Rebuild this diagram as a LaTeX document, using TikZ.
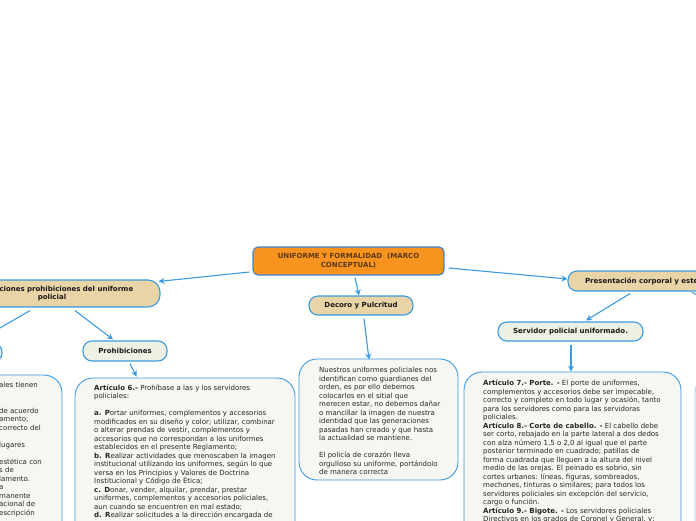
\documentclass[tikz,border=0pt]{standalone}
\usepackage{fontspec}
\setmainfont{DejaVu Sans}
\usetikzlibrary{arrows.meta}
\definecolor{mmblue}{HTML}{3A9BE0}
\definecolor{mmedge}{HTML}{3D84D6}
\definecolor{mmorange}{HTML}{F7931E}
\definecolor{mmtan}{HTML}{E9D4A7}
\definecolor{mmpale}{HTML}{EEF0E4}
\definecolor{mmbox}{HTML}{F6F6F2}
\definecolor{mmbrown}{HTML}{5C3A17}
\definecolor{mmtext}{HTML}{262626}
\begin{document}
\begin{tikzpicture}[x=1pt,y=-1pt,
    topic/.style={draw=mmblue,line width=1.1pt,rounded corners=9pt,fill=mmtan,inner sep=0pt,
      font=\fontsize{7}{8.5}\selectfont\bfseries,text=black!90,align=center},
    subtopic/.style={topic,fill=mmpale},
    textbox/.style={draw=mmblue,line width=0.9pt,rounded corners=18pt,fill=mmbox,inner sep=0pt},
    boxtext/.style={anchor=north west,inner sep=0pt,align=left,text=mmtext,
      font=\fontsize{7}{8.5}\selectfont},
    link/.style={draw=mmblue,line width=1.1pt,-{Stealth[length=6pt,width=6pt]}}]
    \useasboundingbox (0,0) rectangle (696,520);
    \clip (0,0) rectangle (696,520);
    % central topic
    \node[topic,fill=mmorange,draw=mmedge,text=mmbrown,minimum width=191pt,minimum height=28pt,rounded corners=5pt]
        (central) at (348.5,261) {UNIFORME Y FORMALIDAD\ \ (MARCO\\CONCEPTUAL)};
    % main topics
    \node[topic,minimum width=216pt,minimum height=27pt,rounded corners=12pt] (dispo) at (52,293.5)
        {Disposiciones prohibiciones del uniforme\\policial};
    \node[topic,minimum width=104pt,minimum height=19pt] (decoro) at (361,305.5) {Decoro y Pulcritud};
    \node[topic,minimum width=162pt,minimum height=20pt] (pres) at (649,281) {Presentación corporal y estética};
    % subtopics
    \node[subtopic,minimum width=64pt,minimum height=19pt] (leftsub) at (-30,352.5) {};
    \node[subtopic,minimum width=84pt,minimum height=20pt] (prohib) at (125,351) {Prohibiciones};
    \node[subtopic,minimum width=145pt,minimum height=19pt] (servidor) at (570.5,331.5) {Servidor policial uniformado.};
    \node[subtopic,minimum width=60pt,minimum height=20pt] (rightsub) at (745,312) {};
    % text boxes
    \node[textbox,minimum width=212pt,minimum height=185pt] (lefttext) at (-44,467.5) {};
    \node[textbox,minimum width=220pt,minimum height=182pt] (prohibtext) at (185,469) {};
    \node[textbox,minimum width=159pt,minimum height=121pt] (decorotext) at (378.5,419.5) {};
    \node[textbox,minimum width=217pt,minimum height=188pt] (servtext) at (572.5,466) {};
    \node[textbox,draw=mmblue!45,minimum width=200pt,minimum height=185pt] (righttext) at (795,467.5) {};
    % texts
    \node[boxtext] (lefttxt) at (-1,382) {ales tienen\\[8.5pt]\\de acuerdo\\amento;\\correcto del\\[8.5pt]
        lugares\\[8.5pt]estética con\\s de\\lamento.\\a\\manente\\acional de\\escripción};
    \node[boxtext] (prohibtxt) at (94,384.5) {\textbf{Artículo 6.-} Prohíbase a las y los servidores\\policiales:\\[8.5pt]
        \textbf{a. P}ortar uniformes, complementos y accesorios\\
        modificados en su diseño y color; utilizar, combinar\\
        o alterar prendas de vestir, complementos y\\
        accesorios que no correspondan a los uniformes\\
        establecidos en el presente Reglamento;\\
        \textbf{b. R}ealizar actividades que menoscaben la imagen\\
        institucional utilizando los uniformes, según lo que\\
        versa en los Principios y Valores de Doctrina\\
        Institucional y Código de Ética;\\
        \textbf{c. D}onar, vender, alquilar, prendar, prestar\\
        uniformes, complementos y accesorios policiales,\\
        aun cuando se encuentren en mal estado;\\
        \textbf{d. R}ealizar solicitudes a la dirección encargada de};
    \node[boxtext] (decorotxt) at (319,367) {Nuestros uniformes policiales nos\\
        identifican como guardianes del\\orden, es por ello debemos\\colocarlos en el sitial que\\
        merecen estar, no debemos dañar\\o mancillar la imagen de nuestra\\identidad que las generaciones\\
        pasadas han creado y que hasta\\la actualidad se mantiene.\\[8.5pt]
        El policía de corazón lleva\\orgulloso su uniforme, portándolo\\de manera correcta};
    \node[boxtext] (servtxt) at (483,380) {\textbf{Artículo 7.- Porte. -} El porte de uniformes,\\
        complementos y accesorios debe ser impecable,\\
        correcto y completo en todo lugar y ocasión, tanto\\
        para los servidores como para las servidoras\\
        policiales.\\
        \textbf{Artículo 8.- Corte de cabello. -} El cabello debe\\
        ser corto, rebajado en la parte lateral a dos dedos\\
        con alza número 1,5 o 2,0 al igual que el parte\\
        posterior terminado en cuadrado; patillas de\\
        forma cuadrada que lleguen a la altura del nivel\\
        medio de las orejas. El peinado es sobrio, sin\\
        cortes urbanos: líneas, figuras, sombreados,\\
        mechones, tinturas o similares; para todos los\\
        servidores policiales sin excepción del servicio,\\
        cargo o función.\\
        \textbf{Artículo 9.- Bigote. -} Los servidores policiales\\
        Directivos en los grados de Coronel y General, y;};
    % connectors
    \draw[link] ([shift={(-3,11)}]central.west) -- ([shift={(-2,2)}]dispo.north east);
    \draw[link] ([shift={(6.5,2)}]central.south) -- ([shift={(-2,0)}]decoro.north);
    \draw[link] ([shift={(4,7)}]central.east) -- ([shift={(0,-2)}]pres.west);
    \draw[link] ([shift={(-22,3)}]dispo.south) -- ([shift={(5,0)}]leftsub.north);
    \draw[link] ([shift={(23,3)}]dispo.south) -- ([shift={(-12,-1)}]prohib.north);
    \draw[link] ([shift={(5,2)}]prohib.south) -- ([shift={(62,-1)}]prohibtext.north west);
    \draw[link] ([shift={(3,3)}]decoro.south) -- ([shift={(-9.5,1)}]decorotext.north);
    \draw[link] ([shift={(-19,2)}]pres.south) -- ([shift={(15.5,-1)}]servidor.north);
    \draw[link] ([shift={(43,1)}]pres.south) -- (rightsub.north west);
    \draw[link] ([shift={(0.5,3)}]servidor.south) -- ([shift={(-1.5,0)}]servtext.north);
\end{tikzpicture}
\end{document}
